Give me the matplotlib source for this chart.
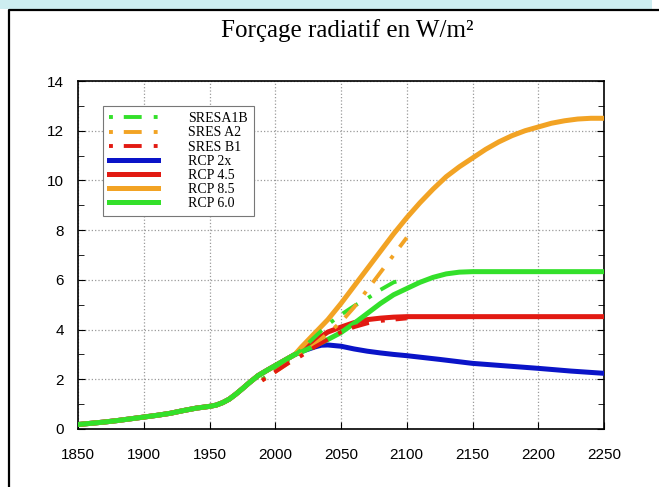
import numpy as np
import matplotlib.pyplot as plt
from matplotlib.patches import Rectangle
from matplotlib.lines import Line2D

# historical part, shared by all RCP curves
hist_years = [1850, 1860, 1870, 1880, 1890, 1900, 1910, 1920, 1930, 1940, 1950, 1955,
              1960, 1965, 1970, 1975, 1980, 1987, 1995, 2000, 2005, 2010, 2015]
hist_vals = [0.18, 0.23, 0.28, 0.34, 0.41, 0.48, 0.55, 0.63, 0.74, 0.84, 0.91, 0.96,
             1.06, 1.2, 1.4, 1.62, 1.85, 2.15, 2.4, 2.55, 2.7, 2.85, 3.0]

# RCP scenarios (2020 -> 2250)
y_2x = [2020, 2030, 2035, 2040, 2050, 2060, 2070, 2080, 2090, 2100, 2125, 2150, 2175,
        2200, 2225, 2250]
rcp_2x = [3.12, 3.3, 3.37, 3.38, 3.33, 3.22, 3.13, 3.06, 3.0, 2.95, 2.8, 2.64, 2.54,
          2.44, 2.33, 2.24]

y_45 = [2020, 2030, 2040, 2050, 2060, 2070, 2080, 2090, 2100, 2110, 2250]
rcp_45 = [3.18, 3.55, 3.9, 4.1, 4.28, 4.4, 4.46, 4.5, 4.52, 4.52, 4.52]

y_85 = [2020, 2030, 2040, 2050, 2060, 2070, 2080, 2090, 2100, 2110, 2120, 2130, 2140,
        2150, 2160, 2170, 2180, 2190, 2200, 2210, 2220, 2230, 2240, 2250]
rcp_85 = [3.3, 3.85, 4.4, 5.05, 5.75, 6.45, 7.15, 7.85, 8.5, 9.1, 9.65, 10.15, 10.55,
          10.9, 11.25, 11.55, 11.8, 12.0, 12.15, 12.3, 12.4, 12.47, 12.5, 12.5]

y_60 = [2020, 2030, 2040, 2050, 2060, 2070, 2080, 2090, 2100, 2110, 2120, 2130, 2140,
        2150, 2250]
rcp_60 = [3.1, 3.35, 3.6, 3.88, 4.25, 4.65, 5.05, 5.4, 5.65, 5.9, 6.1, 6.24, 6.31,
          6.33, 6.33]

# SRES scenarios (1990 -> 2100)
sres_years = [1990, 2000, 2010, 2020, 2030, 2040, 2050, 2060, 2070, 2080, 2090, 2100]
sres_a1b = [2.0, 2.35, 2.75, 3.2, 3.7, 4.2, 4.6, 4.95, 5.25, 5.6, 5.9, 6.05]
sres_a2 = [1.95, 2.3, 2.65, 3.0, 3.4, 3.85, 4.3, 4.9, 5.6, 6.3, 7.0, 7.7]
sres_b1 = [1.95, 2.3, 2.65, 2.95, 3.3, 3.6, 3.9, 4.1, 4.25, 4.35, 4.4, 4.45]

BLUE = '#0a14c8'
RED = '#e21a12'
ORANGE = '#f2a324'
GREEN = '#33e02a'

dashdot = (0, (1.0, 2.8, 4.6, 3.1))

fig = plt.figure(figsize=(6.59, 4.87), dpi=100)
W, H = 659, 487

# light cyan band at the top and the black frame
fig.patches.append(Rectangle((0, 1 - 9 / H), 652 / W, 9 / H, transform=fig.transFigure,
                             facecolor='#cdedf0', edgecolor='none', zorder=0))
fig.lines.append(Line2D([9 / W, 9 / W, 1.0], [0, 1 - 10 / H, 1 - 10 / H],
                        transform=fig.transFigure, color='black', lw=1.6))

ax = fig.add_axes([78 / W, (487 - 429) / H, (604 - 78) / W, (429 - 81) / H])

def full(years, vals):
    return hist_years + years, hist_vals + vals

lw = 3.6
kw = dict(solid_joinstyle='round', dash_capstyle='butt')
ax.plot(sres_years, sres_a1b, color=GREEN, lw=2.8, linestyle=dashdot, label='SRESA1B', zorder=4, **kw)
ax.plot(sres_years, sres_a2, color=ORANGE, lw=2.8, linestyle=dashdot, label='SRES A2', zorder=4, **kw)
ax.plot(sres_years, sres_b1, color=RED, lw=2.8, linestyle=dashdot, label='SRES B1', zorder=4, **kw)
ax.plot(*full(y_2x, rcp_2x), color=BLUE, lw=lw, label='RCP 2x', zorder=3, **kw)
ax.plot(*full(y_45, rcp_45), color=RED, lw=lw, label='RCP 4.5', zorder=3, **kw)
ax.plot(*full(y_85, rcp_85), color=ORANGE, lw=lw, label='RCP 8.5', zorder=3, **kw)
ax.plot(*full(y_60, rcp_60), color=GREEN, lw=lw, label='RCP 6.0', zorder=3, **kw)

ax.set_xlim(1850, 2250)
ax.set_ylim(0, 14)
ax.set_xticks(range(1850, 2251, 50))
ax.set_yticks(range(0, 15, 2))
ax.set_yticks(range(0, 15, 1), minor=True)
ax.tick_params(direction='in', top=False, right=True, length=5, width=0.8, pad=14,
               labelsize=11)
ax.tick_params(axis='y', pad=10)
ax.tick_params(which='minor', direction='in', right=True, length=4)
for lab in ax.get_xticklabels() + ax.get_yticklabels():
    lab.set_family('Liberation Sans')
ax.grid(True, which='major', linestyle=':', color='#9a9a9a', lw=0.9)
for s in ax.spines.values():
    s.set_linewidth(1.2)

leg = ax.legend(loc='upper left', bbox_to_anchor=(0.0475, 0.928), borderaxespad=0,
                fancybox=False, edgecolor='#777777', framealpha=1, handlelength=3.5,
                handletextpad=2.2, labelspacing=0.08, borderpad=0.45,
                prop={'family': 'Liberation Serif', 'size': 10})
leg.get_frame().set_linewidth(0.8)

fig.text(347 / W, 1 - 31 / H, 'Forçage radiatif en W/m²', ha='center', va='center',
         family='Liberation Serif', fontsize=18)

fig.savefig('out.png', dpi=100)
